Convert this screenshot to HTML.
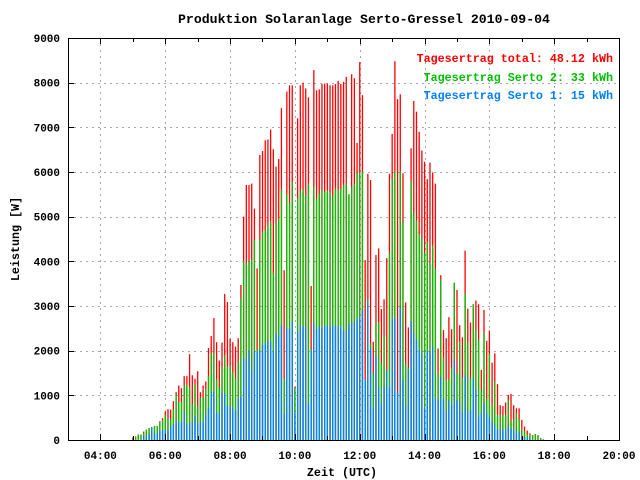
<!DOCTYPE html>
<html><head><meta charset="utf-8"><style>
html,body{margin:0;padding:0;background:#fff}
svg{display:block}
text{font-family:"Liberation Mono",monospace;font-weight:bold;font-size:11px}
</style></head><body>
<svg id="chart" width="640" height="480" xmlns="http://www.w3.org/2000/svg">
<rect x="0" y="0" width="640" height="480" fill="#fff"/>
<text x="364" y="23" text-anchor="middle" style="font-size:13.2px">Produktion Solaranlage Serto-Gressel 2010-09-04</text>
<g id="grid"></g>
<g id="bars"></g>
<g id="axes"></g>
<text x="19" y="239" transform="rotate(-90 19 239)" text-anchor="middle" style="font-size:11.7px">Leistung [W]</text>
<text x="342" y="476" text-anchor="middle" style="font-size:11.7px">Zeit (UTC)</text>
<g style="font-size:11.7px">
<text x="613" y="62" text-anchor="end" fill="#ff0000" style="font-size:11.7px">Tagesertrag total: 48.12 kWh</text>
<text x="613" y="81" text-anchor="end" fill="#00c000" style="font-size:11.7px">Tagesertrag Serto 2: 33 kWh</text>
<text x="613" y="99" text-anchor="end" fill="#0080ff" style="font-size:11.7px">Tagesertrag Serto 1: 15 kWh</text>
</g>
</svg>
<script>
// start time in hours, step 5 minutes
const startHour = 5;
const stepMinutes = 5;
// total power (red tops)
const totalW = [60,80,120,120,190,230,270,290,310,310,420,490,640,690,680,870,1070,1220,1160,1430,1430,1920,1450,1370,1540,1070,1220,1310,2060,2330,2730,2190,1780,2180,3270,3090,2270,2190,
2090,2280,3470,5000,5710,5710,5740,5180,3840,6380,6470,6710,6730,6950,6510,6120,6290,7430,3800,7800,7940,7940,1190,7200,7940,8000,7870,7670,3450,8280,7830,7850,7970,7980,7980,7940,7940,7970,8040,7970,
8020,8130,5500,8190,8100,6650,8460,7720,4030,5960,5820,2200,4140,4290,2930,3150,4070,5960,6850,8480,7630,7740,5970,3080,2520,6530,7590,7350,6900,6480,6230,5840,6210,5990,5740,2050,3690,2460,2280,2750,
2480,3520,3360,2570,2300,4240,2940,2630,3040,3120,3040,1570,2910,2220,2450,1730,1940,1250,780,760,840,1010,1030,780,710,710,450,300,210,150,110,130,110,40,15];
// Serto 1 + Serto 2 (green tops)
const serto2TopW = [0,80,120,120,160,230,270,290,310,310,400,440,560,480,460,680,1020,850,850,1220,1250,1180,800,1250,760,940,940,1150,1430,1940,1940,1360,1180,1610,1900,1640,1640,1520,
1380,1750,3170,4010,3950,4010,4030,4480,2010,4480,4660,4700,4810,4890,3730,4850,4960,5600,1380,5510,5300,5780,1150,5410,5580,5610,5480,5730,2010,5680,5390,5520,5600,5560,5580,5540,5460,5630,5610,5610,
5720,5740,5500,5650,5740,5980,5980,6010,1340,3150,2160,1490,2610,2640,1720,2340,1570,4190,5840,6010,1060,6010,4860,1720,1610,5790,5080,4900,4610,4510,4180,4440,3970,4360,3820,1490,3590,1830,1340,1350,
1630,3520,1490,2200,1380,3280,2190,1380,3040,2450,2240,1120,2390,910,1920,780,1310,560,560,560,560,900,410,460,610,460,240,190,130,110,110,130,110,40,15];
// Serto 1 (blue tops)
const serto1W = [0,0,0,0,80,80,130,270,150,150,210,230,230,220,300,360,420,400,400,600,340,380,380,540,360,400,400,570,720,1070,1070,620,580,1050,1050,760,760,730,
670,930,970,1830,1810,2010,1580,1980,1980,1980,2130,2160,2220,2200,1980,2390,2310,2570,600,2500,2500,2660,600,2420,2570,2550,2550,820,2010,2610,2480,2540,2520,2550,2570,2540,2550,2570,2550,2550,
2460,2420,2600,2610,2650,2720,2760,2920,1340,3100,2040,710,1900,1190,810,1180,1570,1180,2710,2730,1060,2950,1340,760,1570,2650,2390,2240,2010,1940,710,1980,1980,2090,930,900,1420,930,630,900,
780,1800,900,820,630,1450,610,670,1380,1130,520,600,820,610,520,410,340,240,240,240,240,300,260,240,160,190,70,70,40,40,0,0,0,0,0];
const yTicks = [0,1000,2000,3000,4000,5000,6000,7000,8000,9000];
const xTickHours = [4,6,8,10,12,14,16,18,20];
const xTickLabels = ["04:00","06:00","08:00","10:00","12:00","14:00","16:00","18:00","20:00"];

const L=68,R=619,T=38,B=440, H0=3,H1=20, YMAX=9000;
const xScale=h=>L+(h-H0)/(H1-H0)*(R-L);
const yScale=v=>B-v/YMAX*(B-T);
const NS="http://www.w3.org/2000/svg";
function mk(tag,attrs,parent,txt){const e=document.createElementNS(NS,tag);for(const k in attrs)e.setAttribute(k,attrs[k]);if(txt!==undefined)e.textContent=txt;parent.appendChild(e);return e;}
const grid=document.getElementById('grid'),bars=document.getElementById('bars'),axes=document.getElementById('axes');

yTicks.forEach((v,i)=>{
  const y=Math.round(yScale(v))+0.5;
  if(v>0&&v<YMAX){const g=mk('line',{x1:L,x2:R,y1:y,y2:y,stroke:'#a8a8a8','stroke-dasharray':'2,4'},grid);
  
  }
  const t=mk('line',{x1:L,x2:L+6,y1:y,y2:y,stroke:'#000'},axes);
  
  
  const lb=mk('text',{x:60,y:yScale(v)+4,'text-anchor':'end'},axes,String(v));
  
  
});
for(let h=H0+1;h<H1;h++){
  const x=Math.round(xScale(h))+0.5;
  const t=mk('line',{x1:x,x2:x,y1:B,y2:B-(h%2===0?6:4),stroke:'#000'},axes);
  
  
  const t2=mk('line',{x1:x,x2:x,y1:T,y2:T+(h%2===0?6:4),stroke:'#000'},axes);
  
  
}
xTickHours.forEach((h,i)=>{
  const x=Math.round(xScale(h))+0.5;
  if(h<H1){const g=mk('line',{x1:x,x2:x,y1:T,y2:B,stroke:'#a8a8a8','stroke-dasharray':'2,4'},grid);
  
  }
  const lb=mk('text',{x:xScale(h),y:459,'text-anchor':'middle'},axes,xTickLabels[i]);
  
  
});
const frame=mk('rect',{x:L+0.5,y:T+0.5,width:R-L,height:B-T,fill:'none',stroke:'#000'},axes);



totalW.forEach((tv,i)=>{
  const x=xScale(startHour+i*stepMinutes/60)-0.6;
  const series=[[tv,'#ff0000','bar-total'],[serto2TopW[i],'#00c000','bar-serto-2'],[serto1W[i],'#0080ff','bar-serto-1']];
  series.forEach(s=>{
    if(s[0]<=0)return;
    const r=mk('rect',{x:x,y:yScale(s[0]),width:1.3,height:B-yScale(s[0]),fill:s[1]},bars);
    
    
  });
});
</script>
</body></html>
